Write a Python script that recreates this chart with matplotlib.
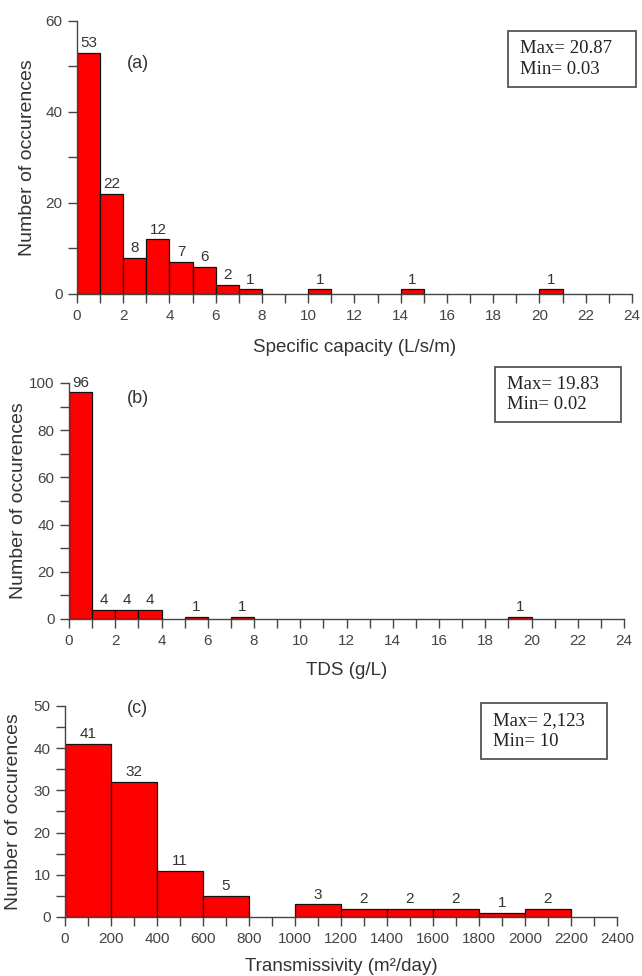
import matplotlib
matplotlib.use("Agg")
import matplotlib.pyplot as plt
from matplotlib.patches import Rectangle
from matplotlib.ticker import MultipleLocator

# ---- data ----
a_edges = list(range(0, 25))
a_counts = [53, 22, 8, 12, 7, 6, 2, 1, 0, 0, 1, 0, 0, 0, 1, 0, 0, 0, 0, 0, 1, 0, 0, 0]
a_stats = "Max= 20.87\nMin= 0.03"

b_edges = list(range(0, 25))
b_counts = [96, 4, 4, 4, 0, 1, 0, 1, 0, 0, 0, 0, 0, 0, 0, 0, 0, 0, 0, 1, 0, 0, 0, 0]
b_stats = "Max= 19.83\nMin= 0.02"

c_edges = list(range(0, 2401, 200))
c_counts = [41, 32, 11, 5, 0, 3, 2, 2, 2, 1, 2, 0]
c_stats = "Max= 2,123\nMin= 10"

SANS = "Liberation Sans"
SERIF = "Liberation Serif"
TXT = "#333333"
W, H = 642, 976

fig = plt.figure(figsize=(W / 100, H / 100), dpi=100)

def panel(rect, edges, counts, xlim, ylim, ymaj, ymin, xmaj, xmin, xlabel, xpad, ypad,
          tag, tagpos, stats, box):
    ax = fig.add_axes(rect)
    lefts = edges[:-1]
    widths = [edges[i + 1] - edges[i] for i in range(len(edges) - 1)]
    for x, w, c in zip(lefts, widths, counts):
        if c > 0:
            ax.bar(x, c, width=w, align="edge", color="#ff0000", edgecolor="#111111",
                   linewidth=0.9, zorder=2)
            ax.annotate(str(c), (x + w / 2, c), xytext=(0, 2), textcoords="offset points",
                        ha="center", va="bottom", fontsize=11, family=SANS, color=TXT)
    ax.set_xlim(*xlim)
    ax.set_ylim(*ylim)
    for s in ["top", "right"]:
        ax.spines[s].set_visible(False)
    for s in ["left", "bottom"]:
        ax.spines[s].set_linewidth(1.0)
        ax.spines[s].set_color("#444444")
    ax.yaxis.set_major_locator(MultipleLocator(ymaj))
    ax.yaxis.set_minor_locator(MultipleLocator(ymin))
    ax.xaxis.set_major_locator(MultipleLocator(xmaj))
    ax.xaxis.set_minor_locator(MultipleLocator(xmin))
    ax.tick_params(which="both", direction="out", color="#444444", width=1.0, length=6.5)
    ax.tick_params(which="major", labelsize=11, labelcolor="#444444", pad=4)
    for lab in ax.get_xticklabels() + ax.get_yticklabels():
        lab.set_family(SANS)
    ax.set_ylabel("Number of occurences", fontsize=14, family=SANS, color=TXT,
                  labelpad=ypad)
    ax.set_xlabel(xlabel, fontsize=13.5, family=SANS, color=TXT, labelpad=xpad)
    ax.text(tagpos[0], tagpos[1], tag, transform=ax.transAxes, fontsize=13, family=SANS,
            ha="center", va="center", color=TXT)
    x0, y0, x1, y1 = box
    ax.add_patch(Rectangle((x0, y0), x1 - x0, y1 - y0, transform=ax.transAxes,
                           facecolor="white", edgecolor="#555555", linewidth=1.3,
                           clip_on=False, zorder=5))
    axw_px = rect[2] * W
    ax.text(x0 + 12 / axw_px, (y0 + y1) / 2, stats, transform=ax.transAxes, fontsize=13.5,
            family=SERIF, ha="left", va="center", linespacing=1.27, zorder=6,
            color="#222222")
    return ax

panel([0.1199, 0.6988, 0.8645, 0.2797], a_edges, a_counts, (0, 24), (0, 60), 20, 10, 2, 1,
      "Specific capacity (L/s/m)", 11.5, 6.5, "(a)", (0.11, 0.846), a_stats,
      (0.777, 0.758, 1.007, 0.963))
panel([0.1075, 0.3658, 0.8645, 0.2418], b_edges, b_counts, (0, 24), (0, 100), 20, 10, 2, 1,
      "TDS (g/L)", 10.5, 1.5, "(b)", (0.124, 0.936), b_stats,
      (0.768, 0.835, 0.995, 1.068))
panel([0.1012, 0.0605, 0.8598, 0.2162], c_edges, c_counts, (0, 2400), (0, 50), 10, 5, 200, 100,
      "Transmissivity (m²/day)", 9, 8, "(c)", (0.132, 0.99), c_stats,
      (0.754, 0.749, 0.982, 1.014))

fig.savefig("out.png", dpi=100)
